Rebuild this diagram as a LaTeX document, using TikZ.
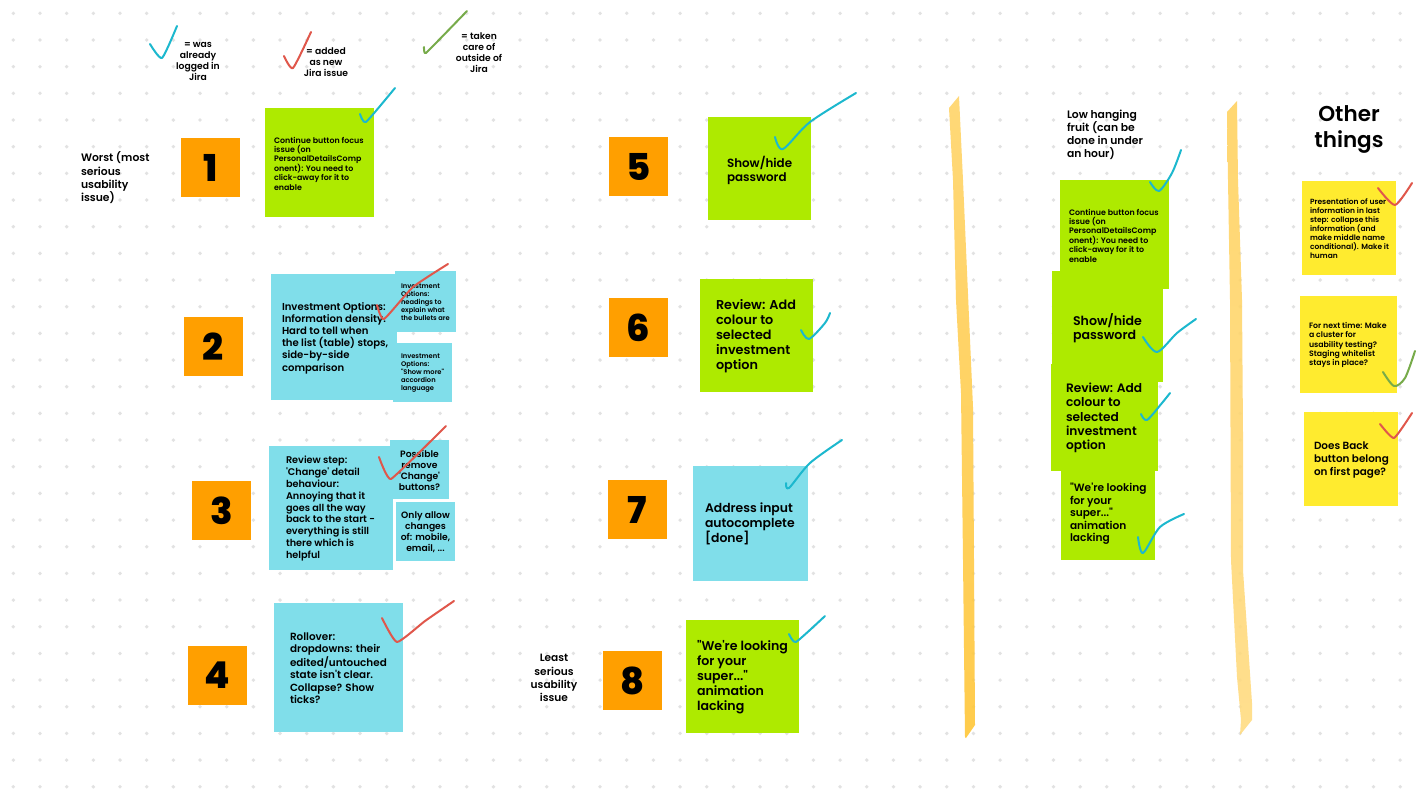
\documentclass[tikz,border=0pt]{standalone}
\usepackage{fontspec}
\setmainfont{Poppins}
\newfontfamily\txtfont{Poppins SemiBold}
\newfontfamily\numfont{Poppins ExtraBold}
\definecolor{lime}{HTML}{AEEA00}
\definecolor{sky}{HTML}{80DEEA}
\definecolor{amber}{HTML}{FF9F00}
\definecolor{lemon}{HTML}{FFEB2F}
\definecolor{dotc}{HTML}{E2E2E2}
\definecolor{tickblue}{HTML}{1CB8CE}
\definecolor{tickred}{HTML}{E0574B}
\definecolor{tickgreen}{HTML}{77AB4A}
\definecolor{stripa}{HTML}{FFC533}
\definecolor{stripb}{HTML}{FFCF55}
\newcommand{\nsz}[2]{\fontsize{\dimexpr#1pt*3/4\relax}{\dimexpr#2pt*3/4\relax}\selectfont}
\newcommand{\fsz}[2]{\txtfont\nsz{#1}{#2}}
\newcommand{\stk}[6]{\node[stickybox,fill=#6,minimum width={(#4-#2)*0.75pt},minimum height={(#5-#3)*0.75pt}] (#1) at ({(#2+#4)/2},{(#3+#5)/2}) {};}
\newcommand{\num}[6]{\node[stickybox,fill=amber,minimum width={(#4-#2)*0.75pt},minimum height={(#5-#3)*0.75pt},font=\numfont\nsz{37}{37},text=black] (#1) at ({(#2+#4)/2},{(#3+#5)/2}) {#6};}
\tikzset{
  stickybox/.style={draw=none,rectangle,inner sep=0pt,outer sep=0pt},
  lab/.style={inner sep=0pt,outer sep=0pt,align=left,anchor=west,text=black,yshift=-0.75pt},
  labc/.style={inner sep=0pt,outer sep=0pt,align=center,anchor=center,text=black,yshift=-0.75pt},
  tick/.style={line width=1.5pt,line cap=round,line join=round}
}
\begin{document}
\begin{tikzpicture}[x=0.75pt,y=-0.75pt]
\useasboundingbox (0,0) rectangle (1422,800);
\fill[white] (0,0) rectangle (1422,800);
\foreach \i in {0,...,53}{\foreach \j in {0,...,29}{
  \fill[dotc] ({13.33+26.67*\i},{13.33+26.67*\j}) circle[radius=1.9];
}}
% strips
\path[opacity=.88,top color=stripa!75!white,middle color=stripa!50!white,bottom color=stripa]
 (959,96) -- (949,108) -- (953,180) -- (956,300) -- (961,393) -- (963,560) -- (965,737) -- (966,738) -- (975,725) -- (974,560) -- (973,407) -- (969,317) -- (963,180) -- cycle;
\path[opacity=.88,top color=stripb!95!white,middle color=stripb!60!white,bottom color=stripb!75!white]
 (1237,101) -- (1227,112) -- (1228,180) -- (1230,300) -- (1231,560) -- (1237,677) -- (1241,720) -- (1240,735) -- (1252,720) -- (1252,703) -- (1243,570) -- (1243,433) -- (1242,300) -- (1238,180) -- cycle;
% number squares
\num{n1}{181}{138}{240}{197}{1}
\num{n2}{184}{317}{243}{376}{2}
\num{n3}{192}{481}{251}{540}{3}
\num{n4}{188}{646}{247}{705}{4}
\num{n5}{609}{137}{668}{196}{5}
\num{n6}{609}{298}{668}{357}{6}
\num{n7}{608}{480}{667}{539}{7}
\num{n8}{603}{651}{662}{710}{8}
% stickies
\stk{sa}{265}{108}{374}{217}{lime}
\stk{sb}{271}{274}{397}{400}{sky}
\stk{sc}{395}{271}{456}{332}{sky}
\stk{sd}{393}{343}{452}{402}{sky}
\stk{se}{269}{446}{393}{570}{sky}
\stk{sf}{390}{440}{449}{499}{sky}
\stk{sg}{396}{502}{455}{561}{sky}
\stk{sh}{274}{603}{403}{732}{sky}
\stk{si}{708}{117}{811}{220}{lime}
\stk{sj}{700}{279}{813}{392}{lime}
\stk{sk}{693}{466}{808}{581}{sky}
\stk{sl}{686}{620}{799}{733}{lime}
\stk{sm}{1060}{180}{1169}{289}{lime}
\stk{sn}{1052}{271}{1163}{382}{lime}
\stk{so}{1051}{364}{1158}{471}{lime}
\stk{sp}{1061}{466}{1155}{560}{lime}
\stk{sq}{1302}{181}{1396}{275}{lemon}
\stk{sr}{1300}{296}{1397}{393}{lemon}
\stk{ss}{1304}{412}{1398}{506}{lemon}
% free labels
\node[labc,font=\fsz{9.2}{11}] (lega) at (198,60.5) {= was\\already\\logged in\\Jira};
\node[labc,font=\fsz{9.2}{11}] (legb) at (326,61) {= added\\as new\\Jira issue};
\node[labc,font=\fsz{9.2}{11}] (legc) at (479,51.5) {= taken\\care of\\outside of\\Jira};
\node[lab,font=\fsz{10.8}{13.3}] (worst) at (81,177) {Worst (most\\serious\\usability\\issue)};
\node[labc,font=\fsz{10.6}{13.3}] (least) at (554,677) {Least\\serious\\usability\\issue};
\node[lab,font=\fsz{10.8}{13.1}] (low) at (1067,133.5) {Low hanging\\fruit (can be\\done in under\\an hour)};
\node[labc,font=\fsz{21.5}{26},yshift=-1.5pt] (other) at (1349,126) {Other\\things};
% sticky texts
\node[lab,font=\fsz{7.9}{9.4}] (ta) at (274,162.5) {Continue button focus\\issue (on\\PersonalDetailsComp\\onent): You need to\\click-away for it to\\enable};
\node[lab,font=\fsz{10.1}{12.2}] (tb) at (282,337) {Investment Options:\\Information density.\\Hard to tell when\\the list (table) stops,\\side-by-side\\comparison};
\node[lab,font=\fsz{6.7}{8.1}] (tc) at (401,301) {Investment\\Options:\\headings to\\explain what\\the bullets are};
\node[lab,font=\fsz{6.7}{8.1}] (td) at (401,372) {Investment\\Options:\\"Show more"\\accordion\\language};
\node[lab,font=\fsz{9.7}{11.9}] (te) at (286,507.5) {Review step:\\'Change' detail\\behaviour:\\Annoying that it\\goes all the way\\back to the start -\\everything is still\\there which is\\helpful};
\node[labc,font=\fsz{9.2}{11}] (tf) at (419.5,469) {Possible\\remove\\'Change'\\buttons?};
\node[labc,font=\fsz{9.2}{11}] (tg) at (425.5,531.5) {Only allow\\changes\\of: mobile,\\email, ...};
\node[lab,font=\fsz{10.4}{12.3}] (th) at (290,667) {Rollover:\\dropdowns: their\\edited/untouched\\state isn't clear.\\Collapse? Show\\ticks?};
\node[lab,font=\fsz{11.9}{14}] (ti) at (727,169) {Show/hide\\password};
\node[lab,font=\fsz{12.8}{15}] (tj) at (716,335) {Review: Add\\colour to\\selected\\investment\\option};
\node[lab,font=\fsz{12.4}{15}] (tk) at (705,523) {Address input\\autocomplete\\{[}done{]}};
\node[lab,font=\fsz{12.6}{15}] (tl) at (697,676) {"We're looking\\for your\\super..."\\animation\\lacking};
\node[lab,font=\fsz{7.9}{9.4}] (tm) at (1069,234.5) {Continue button focus\\issue (on\\PersonalDetailsComp\\onent): You need to\\click-away for it to\\enable};
\node[lab,font=\fsz{12.6}{14}] (tn) at (1073,327) {Show/hide\\password};
\node[lab,font=\fsz{12.2}{14.4}] (to) at (1066,417) {Review: Add\\colour to\\selected\\investment\\option};
\node[lab,font=\fsz{10.6}{12.5}] (tp) at (1070,513) {"We're looking\\for your\\super..."\\animation\\lacking};
\node[lab,font=\fsz{7.5}{9}] (tq) at (1310,228) {Presentation of user\\information in last\\step: collapse this\\information (and\\make middle name\\conditional). Make it\\human};
\node[lab,font=\fsz{7.8}{9.4}] (tr) at (1309,344) {For next time: Make\\a cluster for\\usability testing?\\Staging whitelist\\stays in place?};
\node[lab,font=\fsz{10.4}{12.7}] (ts) at (1314,459) {Does Back\\button belong\\on first page?};
% ticks
\draw[tick,tickblue] plot[smooth,tension=.35] coordinates {(150,44) (162,58) (177,26)};
\draw[tick,tickred] plot[smooth,tension=.35] coordinates {(284,56) (293,68) (311,32)};
\draw[tick,tickgreen] plot[smooth,tension=.2] coordinates {(424,47) (426,53) (467,11)};
\draw[tick,tickblue] plot[smooth,tension=.3] coordinates {(360,114) (366,122) (395,88)};
\draw[tick,tickred] plot[smooth,tension=.3] coordinates {(377,305) (384,319) (413,287) (448,264)};
\draw[tick,tickred] plot[smooth,tension=.2] coordinates {(379,457) (391,479) (446,426)};
\draw[tick,tickred] plot[smooth,tension=.3] coordinates {(382,618) (397,642) (425,621) (454,601)};
\draw[tick,tickblue] plot[smooth,tension=.5] coordinates {(775,137) (783,149) (810,122) (856,93)};
\draw[tick,tickblue] plot[smooth,tension=.5] coordinates {(801,330) (809,339) (825,323) (830,313)};
\draw[tick,tickblue] plot[smooth,tension=.5] coordinates {(786,483) (789,488) (810,463) (842,440)};
\draw[tick,tickblue] plot[smooth,tension=.3] coordinates {(789,634) (796,642) (825,616)};
\draw[tick,tickblue] plot[smooth,tension=.5] coordinates {(1150,182) (1159,191) (1172,173) (1181,150)};
\draw[tick,tickblue] plot[smooth,tension=.5] coordinates {(1143,337) (1157,352) (1177,333) (1196,319)};
\draw[tick,tickblue] plot[smooth,tension=.5] coordinates {(1141,414) (1147,420) (1162,403) (1170,393)};
\draw[tick,tickblue] plot[smooth,tension=.5] coordinates {(1138,537) (1143,553) (1160,527) (1184,514)};
\draw[tick,tickred] plot[smooth,tension=.4] coordinates {(1378,188) (1395,205) (1412,183)};
\draw[tick,tickgreen] plot[smooth,tension=.5] coordinates {(1383,372) (1394,386) (1405,378) (1415,351)};
\draw[tick,tickred] plot[smooth,tension=.3] coordinates {(1380,424) (1394,438) (1412,413)};
\end{tikzpicture}
\end{document}
